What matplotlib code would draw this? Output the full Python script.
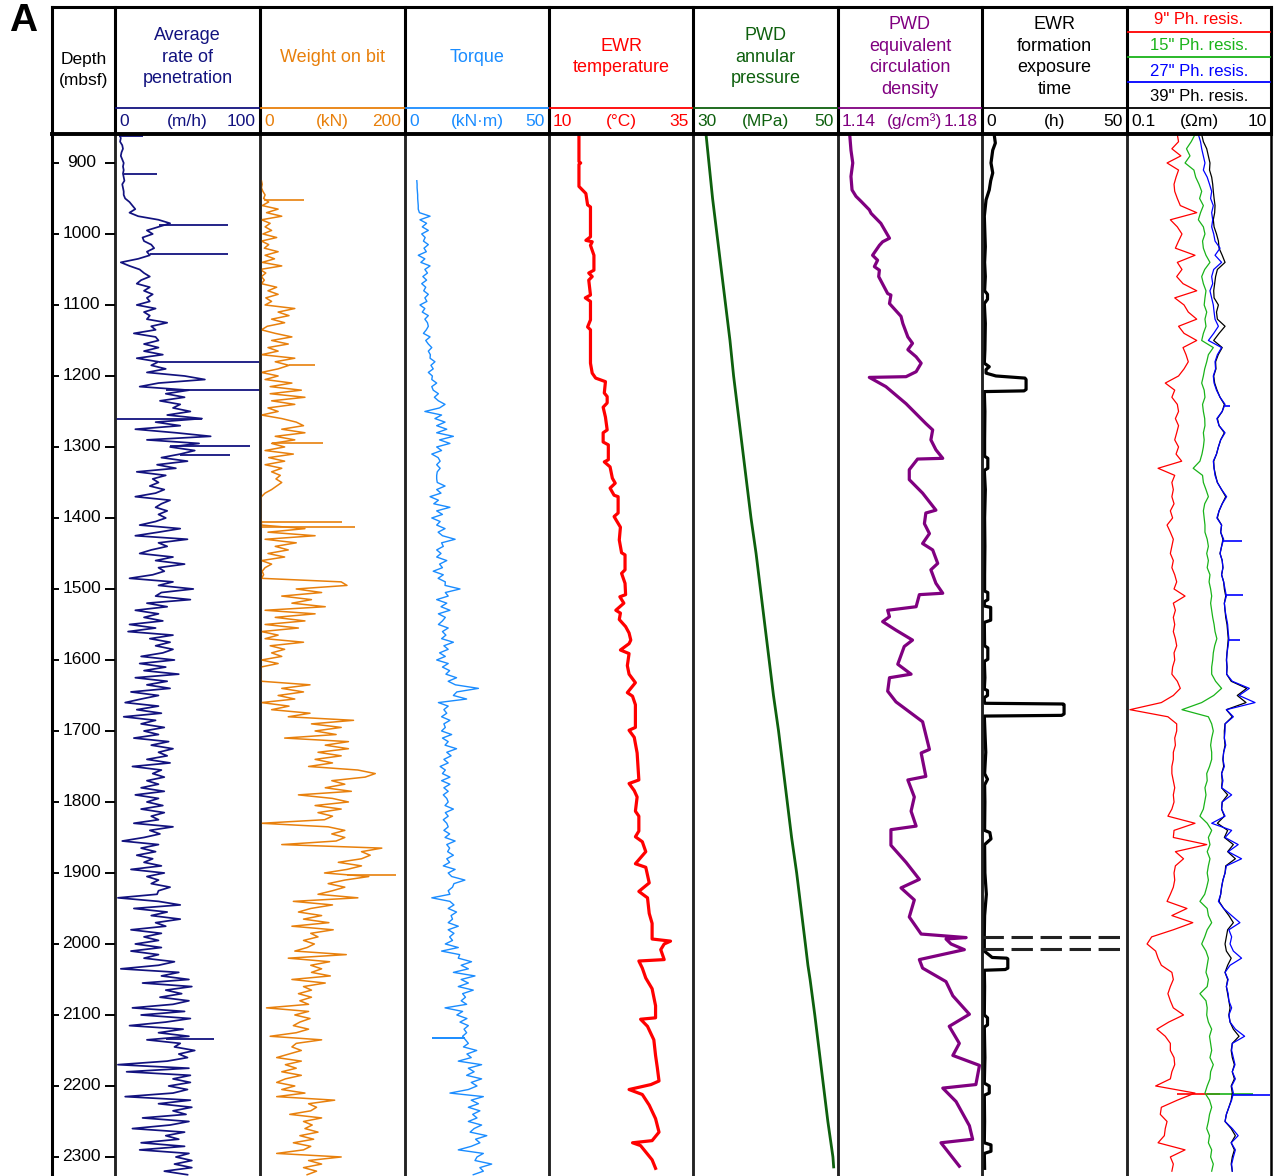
import numpy as np
import matplotlib.pyplot as plt
from matplotlib.transforms import blended_transform_factory

plt.rcParams['font.family'] = ['Liberation Sans', 'DejaVu Sans']

# ---------------- data ----------------
# drilling logs sampled every 5 m, first sample at *_TOP (mbsf)
ROP_TOP = 860
ROP = [3, 4, 3.5, 5, 5.5, 4.5, 4, 5, 6, 5.5,
       6, 5.5, 6, 6.5, 5, 5.5, 6, 6, 7, 10,
       12, 14, 10, 16, 30, 38, 30, 22, 26, 19,
       20, 25, 27, 22, 24, 16, 4, 10, 17, 20,
       24, 18, 15, 24, 20, 26, 22, 24, 15, 28,
       20, 24, 22, 36, 25, 28, 13, 28, 30, 20,
       30, 20, 33, 15, 30, 25, 35, 22, 48, 62,
       30, 17, 51, 35, 48, 31, 45, 40, 52, 36,
       60, 28, 45, 14, 42, 66, 22, 58, 38, 55,
       45, 32, 50, 29, 42, 15, 35, 26, 30, 24,
       34, 28, 14, 38, 32, 28, 36, 30, 35, 28,
       17, 45, 30, 14, 50, 30, 36, 25, 17, 40,
       28, 48, 30, 34, 26, 10, 40, 30, 54, 32,
       28, 52, 22, 36, 14, 30, 20, 33, 10, 28,
       9, 40, 24, 38, 28, 40, 33, 18, 41, 17,
       35, 20, 44, 14, 36, 22, 38, 11, 30, 18,
       7, 30, 15, 32, 6, 28, 18, 34, 20, 30,
       13, 37, 25, 40, 30, 36, 22, 38, 12, 32,
       26, 34, 22, 30, 18, 34, 14, 30, 22, 33,
       18, 34, 25, 30, 13, 40, 24, 31, 20, 5,
       30, 18, 28, 15, 26, 20, 32, 11, 34, 22,
       30, 25, 38, 30, 29, 2, 30, 45, 13, 36,
       25, 45, 28, 35, 11, 32, 20, 30, 14, 32,
       11, 30, 20, 41, 30, 4, 44, 32, 51, 19,
       53, 35, 46, 31, 51, 40, 12, 48, 18, 52,
       35, 10, 47, 30, 51, 22, 45, 41, 55, 44,
       50, 36, 2, 51, 8, 52, 40, 52, 37, 50,
       40, 7, 52, 30, 53, 40, 49, 19, 51, 38,
       12, 48, 35, 44, 18, 48, 17, 51, 42, 53,
       41, 53, 34, 50]
ROP_SPIKE_D = [862, 915, 987, 1028, 1180, 1220, 1260, 1299, 1312, 2134]
ROP_SPIKE_FROM = [3, 6, 30, 24, 30, 35, 0, 38, 45, 35]
ROP_SPIKE_TO = [19, 29, 78, 78, 99, 100, 60, 93, 79, 68]

WOB_TOP = 925
WOB = [2, 3, 2, 4, 7, 5, 12, 3, 25, 9,
       30, 2, 14, 7, 16, 4, 23, 2, 12, 6,
       25, 7, 20, 3, 30, 0, 8, 2, 6, 2,
       23, 11, 25, 8, 16, 7, 48, 25, 40, 16,
       34, 10, 2, 21, 44, 16, 39, 11, 25, 2,
       48, 21, 40, 25, 2, 25, 7, 44, 14, 57,
       14, 62, 16, 48, 11, 25, 2, 30, 50, 60,
       30, 62, 21, 48, 16, 34, 7, 46, 12, 34,
       7, 30, 16, 28, 22, 30, 23, 16, 7, 2,
       1, 1, 1, 1, 1, 1, 2, 2, 62, 11,
       76, 7, 50, 21, 39, 11, 34, 2, 16, 7,
       3, 5, 2, 112, 120, 50, 85, 30, 71, 44,
       90, 7, 76, 21, 62, 7, 53, 2, 25, 7,
       60, 14, 34, 16, 30, 2, 25, 1, 1, 1,
       1, 2, 69, 30, 60, 25, 48, 2, 40, 16,
       69, 39, 129, 71, 112, 76, 105, 34, 122, 90,
       122, 80, 112, 76, 100, 67, 135, 159, 145, 99,
       117, 90, 126, 53, 100, 122, 76, 112, 80, 100,
       89, 2, 94, 117, 99, 117, 105, 30, 168, 140,
       152, 140, 108, 140, 120, 89, 150, 117, 94, 117,
       100, 80, 135, 46, 100, 70, 53, 85, 60, 95,
       44, 101, 70, 80, 60, 75, 65, 48, 119, 39,
       96, 70, 85, 71, 97, 44, 90, 60, 71, 53,
       71, 55, 67, 9, 67, 48, 69, 55, 46, 67,
       50, 14, 85, 50, 44, 57, 40, 23, 57, 35,
       50, 30, 57, 35, 23, 48, 30, 62, 23, 103,
       67, 78, 70, 41, 85, 60, 72, 62, 80, 55,
       74, 46, 70, 60, 23, 112, 67, 85, 60, 78,
       65]
WOB_SPIKE_D = [952, 1185, 1295, 1406, 1413, 1903]
WOB_SPIKE_FROM = [5, 40, 16, 1, 1, 120]
WOB_SPIKE_TO = [60, 76, 87, 113, 131, 188]

TORQUE_TOP = 925
TORQUE = [4.1, 4.2, 4.2, 4.3, 4.4, 4.4, 4.5, 4.6, 4.6, 5.0,
          8.7, 5.2, 7.5, 6.0, 8.1, 5.8, 7.0, 6.4, 8.1, 6.6,
          7.4, 4.6, 6.9, 5.5, 8.7, 6.9, 7.8, 6.2, 7.5, 5.8,
          7.2, 6.5, 8.1, 6.9, 7.6, 5.2, 6.9, 6.0, 8.1, 6.9,
          7.8, 8.1, 7.4, 6.4, 8.7, 7.2, 8.1, 9.3, 8.1, 8.8,
          8.7, 10.4, 9.0, 9.8, 8.1, 9.5, 9.3, 11.0, 9.3, 9.8,
          11.6, 10.2, 11.6, 13.9, 12.0, 6.9, 12.7, 10.4, 13.9, 11.0,
          14.5, 11.0, 16.8, 12.0, 15.6, 11.0, 12.7, 9.3, 11.5, 12.2,
          11.0, 12.2, 11.2, 11.0, 11.0, 11.2, 13.9, 11.0, 12.5, 8.7,
          11.6, 10.0, 15.6, 11.0, 13.0, 9.3, 12.2, 11.0, 13.9, 11.5,
          13.0, 17.4, 12.7, 13.3, 11.0, 12.5, 11.0, 14.5, 12.0, 13.0,
          9.8, 13.3, 11.5, 14.0, 13.9, 19.1, 14.0, 15.0, 11.0, 14.5,
          12.5, 15.6, 11.6, 14.0, 13.0, 11.6, 15.0, 13.0, 14.2, 12.7,
          16.8, 13.5, 15.0, 12.0, 14.0, 11.0, 15.0, 13.0, 15.5, 14.2,
          17.9, 15.0, 17.5, 25.5, 18.0, 16.8, 21.4, 11.6, 15.0, 13.5,
          14.5, 12.7, 15.6, 13.5, 14.0, 12.7, 16.2, 13.0, 15.0, 13.9,
          17.9, 14.5, 16.0, 13.5, 15.0, 12.2, 14.0, 13.0, 15.6, 12.7,
          15.6, 13.5, 15.0, 13.3, 14.5, 15.0, 13.9, 16.8, 14.0, 15.0,
          13.3, 14.5, 15.0, 13.5, 15.5, 13.9, 17.4, 14.5, 15.5, 14.8,
          16.8, 14.5, 15.5, 13.3, 17.4, 15.0, 16.2, 20.8, 17.0, 16.5,
          15.0, 15.6, 9.3, 15.6, 17.0, 15.0, 17.9, 16.0, 16.5, 15.0,
          18.5, 15.0, 17.0, 15.5, 16.5, 14.0, 18.5, 12.7, 19.0, 18.5,
          23.1, 19.5, 22.0, 16.8, 24.3, 19.5, 22.0, 18.5, 23.7, 20.0,
          21.0, 19.5, 21.4, 13.9, 20.0, 18.0, 21.5, 19.1, 22.0, 20.5,
          21.4, 20.0, 21.0, 22.0, 20.3, 24.9, 21.5, 23.0, 18.5, 26.6,
          22.0, 24.0, 21.4, 26.6, 23.0, 25.0, 22.0, 15.6, 27.2, 23.0,
          25.5, 22.0, 26.0, 23.5, 25.0, 22.0, 26.6, 24.0, 22.6, 28.4,
          24.5, 26.0, 23.0, 18.5, 27.2, 25.0, 24.3, 30.1, 26.0, 27.2,
          23.7]
TORQUE_SPIKE_D = [2132]
TORQUE_SPIKE_FROM = [21.0]
TORQUE_SPIKE_TO = [9.3]

TEMP_DEPTH = [860, 898, 900, 902, 933, 938, 943, 959, 962, 1004,
              1009, 1011, 1016, 1030, 1051, 1055, 1060, 1065, 1086, 1090,
              1095, 1121, 1131, 1135, 1182, 1196, 1203, 1208, 1224, 1229,
              1238, 1244, 1258, 1276, 1280, 1293, 1297, 1318, 1321, 1328,
              1344, 1351, 1358, 1368, 1370, 1393, 1398, 1413, 1431, 1449,
              1452, 1473, 1478, 1492, 1508, 1511, 1520, 1530, 1534, 1543,
              1553, 1562, 1572, 1577, 1586, 1591, 1608, 1620, 1632, 1646,
              1651, 1663, 1695, 1699, 1709, 1731, 1769, 1774, 1784, 1793,
              1813, 1820, 1841, 1849, 1856, 1870, 1887, 1892, 1914, 1926,
              1935, 1957, 1971, 1993, 1996, 2000, 2008, 2022, 2024, 2034,
              2048, 2063, 2087, 2104, 2106, 2116, 2135, 2157, 2174, 2193,
              2198, 2205, 2212, 2227, 2246, 2265, 2277, 2280, 2284, 2304,
              2316]
TEMP = [15.2, 15.2, 15.5, 15.2, 15.2, 15.8, 16.4, 16.7, 17.2, 17.2,
        16.4, 17.5, 17.2, 17.8, 17.8, 16.9, 17.5, 16.9, 17.2, 16.3,
        17.2, 17.2, 16.7, 17.2, 17.2, 17.5, 18.1, 19.8, 19.6, 20.1,
        20.1, 19.4, 19.8, 20.1, 19.4, 19.4, 20.3, 20.3, 19.6, 20.6,
        21.0, 21.5, 20.6, 21.3, 22.0, 22.0, 21.3, 22.4, 22.2, 22.6,
        23.2, 23.2, 22.6, 23.2, 23.3, 22.3, 23.0, 21.6, 22.4, 22.2,
        23.3, 23.9, 24.2, 23.9, 22.4, 23.9, 23.6, 23.9, 25.0, 23.6,
        24.5, 25.0, 25.0, 23.9, 24.8, 25.3, 25.6, 23.9, 24.8, 25.3,
        25.0, 25.6, 25.6, 25.0, 26.2, 26.8, 25.0, 26.8, 27.4, 25.6,
        27.1, 27.4, 27.9, 27.9, 31.1, 30.0, 29.4, 30.0, 25.6, 26.2,
        26.8, 27.9, 28.5, 28.5, 25.9, 27.1, 28.2, 28.5, 28.8, 29.1,
        27.7, 23.9, 26.2, 27.4, 28.5, 29.1, 27.9, 24.5, 25.9, 27.9,
        28.5]

PRES_DEPTH = [860, 900, 950, 1000, 1050, 1100, 1150, 1200, 1250, 1300,
              1350, 1400, 1450, 1500, 1550, 1600, 1650, 1700, 1750, 1800,
              1850, 1900, 1950, 2000, 2030, 2040, 2050, 2100, 2150, 2200,
              2250, 2300, 2314]
PRES = [31.8, 32.2, 32.7, 33.3, 33.9, 34.5, 35.1, 35.6, 36.2, 36.8,
        37.4, 38.0, 38.7, 39.3, 39.9, 40.5, 41.1, 41.8, 42.4, 43.0,
        43.6, 44.3, 44.9, 45.5, 45.85, 46.0, 46.15, 46.8, 47.4, 48.0,
        48.6, 49.3, 49.4]

ECD_DEPTH = [863, 882, 900, 919, 938, 947, 954, 966, 971, 985,
             1006, 1011, 1016, 1030, 1037, 1046, 1051, 1060, 1084, 1086,
             1098, 1116, 1126, 1145, 1154, 1163, 1173, 1182, 1194, 1201,
             1202, 1215, 1239, 1267, 1276, 1290, 1304, 1316, 1317, 1332,
             1346, 1365, 1389, 1393, 1408, 1422, 1436, 1445, 1464, 1473,
             1492, 1506, 1508, 1525, 1530, 1539, 1546, 1558, 1572, 1581,
             1606, 1620, 1625, 1644, 1659, 1687, 1726, 1731, 1764, 1769,
             1793, 1813, 1834, 1839, 1861, 1885, 1909, 1921, 1938, 1962,
             1986, 1991, 1993, 2000, 2008, 2022, 2034, 2053, 2073, 2099,
             2116, 2140, 2157, 2171, 2198, 2203, 2222, 2256, 2275, 2280,
             2313]
ECD = [1.1433, 1.1436, 1.1441, 1.1436, 1.1439, 1.1450, 1.1464, 1.1487, 1.1492, 1.1519,
       1.1543, 1.1524, 1.1515, 1.1496, 1.1510, 1.1501, 1.1515, 1.1513, 1.1538, 1.1547,
       1.1543, 1.1575, 1.1580, 1.1594, 1.1607, 1.1594, 1.1617, 1.1631, 1.1617, 1.1589,
       1.1487, 1.1533, 1.1589, 1.1644, 1.1663, 1.1658, 1.1672, 1.1691, 1.1621, 1.1598,
       1.1598, 1.1635, 1.1672, 1.1644, 1.1640, 1.1654, 1.1635, 1.1663, 1.1677, 1.1658,
       1.1672, 1.1691, 1.1626, 1.1617, 1.1538, 1.1543, 1.1524, 1.1561, 1.1607, 1.1584,
       1.1566, 1.1603, 1.1543, 1.1538, 1.1561, 1.1635, 1.1654, 1.1631, 1.1644, 1.1594,
       1.1612, 1.1603, 1.1617, 1.1547, 1.1547, 1.1589, 1.1626, 1.1575, 1.1612, 1.1598,
       1.1631, 1.1756, 1.1700, 1.1714, 1.1751, 1.1626, 1.1635, 1.1700, 1.1719, 1.1765,
       1.1709, 1.1737, 1.1719, 1.1793, 1.1783, 1.1691, 1.1728, 1.1765, 1.1774, 1.1686,
       1.1737]

EXPO_DEPTH = [860, 872, 882, 900, 914, 925, 938, 952, 975, 1000,
              1018, 1040, 1060, 1080, 1085, 1092, 1098, 1126, 1163, 1182,
              1187, 1191, 1196, 1200, 1203, 1205, 1219, 1221, 1222, 1250,
              1290, 1313, 1316, 1330, 1333, 1360, 1400, 1440, 1480, 1503,
              1505, 1515, 1518, 1524, 1526, 1544, 1547, 1580, 1583, 1599,
              1602, 1625, 1641, 1643, 1650, 1653, 1659, 1661, 1662, 1663,
              1676, 1678, 1679, 1700, 1730, 1760, 1768, 1776, 1800, 1840,
              1843, 1852, 1860, 1900, 1930, 1960, 1986, 2010, 2019, 2020,
              2021, 2034, 2036, 2037, 2060, 2100, 2104, 2114, 2117, 2160,
              2196, 2200, 2210, 2213, 2250, 2280, 2283, 2292, 2295, 2316]
EXPO = [4.2, 4.6, 3.7, 3.1, 3.7, 3.0, 2.5, 1.4, 0.8, 1.0,
        1.15, 0.9, 1.15, 0.9, 1.9, 1.9, 0.8, 1.15, 1.0, 0.8,
        2.5, 1.4, 1.4, 4.8, 14.8, 15.2, 15.2, 14.5, 0.8, 1.0,
        0.9, 0.9, 2.0, 2.0, 0.8, 1.15, 0.9, 1.0, 0.9, 0.9,
        2.0, 2.0, 0.8, 0.8, 3.0, 3.0, 0.8, 0.9, 2.0, 2.0,
        0.8, 1.0, 0.8, 1.9, 1.9, 0.8, 0.8, 1.0, 28.0, 28.3,
        28.3, 27.5, 0.8, 1.0, 1.3, 0.9, 1.9, 0.9, 1.0, 0.9,
        2.7, 3.1, 0.9, 1.0, 1.5, 0.9, 0.8, 0.8, 3.5, 8.5,
        8.9, 8.9, 8.0, 0.8, 0.9, 0.8, 1.9, 1.9, 0.8, 1.0,
        0.8, 2.5, 2.5, 0.8, 0.9, 0.8, 3.1, 3.1, 0.8, 0.9]
EXPO_DASH_D = [1990, 2007]

# phase resistivities sampled every 10 m from 860 mbsf
RES_TOP = 860
RES9 = [0.50, 0.52, 0.42, 0.56, 0.36, 0.52, 0.48, 0.45, 0.46, 0.50,
        0.55, 0.93, 0.40, 0.50, 0.58, 0.52, 0.47, 0.88, 0.50, 0.58,
        0.49, 0.60, 0.93, 0.46, 0.62, 0.71, 0.93, 0.52, 0.62, 0.93,
        0.60, 0.66, 0.71, 0.62, 0.52, 0.34, 0.46, 0.42, 0.50, 0.52,
        0.47, 0.52, 0.49, 0.46, 0.52, 0.48, 0.575, 0.27, 0.46, 0.42,
        0.44, 0.42, 0.45, 0.40, 0.43, 0.36, 0.40, 0.44, 0.42, 0.40,
        0.44, 0.42, 0.46, 0.49, 0.45, 0.64, 0.44, 0.47, 0.44, 0.46,
        0.44, 0.47, 0.49, 0.45, 0.46, 0.43, 0.42, 0.50, 0.55, 0.44,
        0.30, 0.11, 0.37, 0.49, 0.49, 0.46, 0.47, 0.44, 0.44, 0.42,
        0.42, 0.44, 0.46, 0.44, 0.45, 0.42, 0.37, 0.88, 0.45, 0.44,
        1.28, 0.47, 0.61, 0.47, 0.45, 0.46, 0.44, 0.40, 0.36, 0.68,
        0.42, 0.82, 0.44, 0.22, 0.19, 0.25, 0.27, 0.30, 0.42, 0.44,
        0.40, 0.37, 0.40, 0.44, 0.61, 0.38, 0.26, 0.34, 0.40, 0.40,
        0.45, 0.46, 0.42, 0.40, 0.25, 0.88, 0.50, 0.30, 0.29, 0.36,
        0.34, 0.33, 0.27, 0.64, 0.40, 0.44, 0.42]
RES15 = [0.88, 0.78, 0.67, 0.75, 0.64, 0.85, 0.90, 1.00, 1.09, 1.02,
         1.15, 1.05, 0.98, 1.15, 1.21, 1.12, 1.15, 1.25, 1.42, 1.20,
         1.09, 1.15, 1.25, 1.21, 1.18, 1.28, 1.21, 1.25, 1.15, 1.09,
         1.58, 1.35, 1.28, 1.20, 1.15, 1.09, 1.18, 1.21, 1.12, 1.15,
         1.20, 1.21, 1.15, 1.18, 1.15, 1.10, 1.03, 0.83, 1.12, 1.15,
         1.25, 1.35, 1.20, 1.15, 1.18, 1.21, 1.21, 1.30, 1.35, 1.28,
         1.35, 1.30, 1.42, 1.38, 1.45, 1.50, 1.45, 1.50, 1.55, 1.62,
         1.67, 1.77, 1.65, 1.58, 1.55, 1.50, 1.50, 1.70, 2.06, 1.60,
         1.09, 0.58, 1.35, 1.50, 1.58, 1.50, 1.45, 1.50, 1.50, 1.40,
         1.28, 1.30, 1.21, 1.25, 1.20, 1.15, 1.03, 1.30, 1.50, 1.35,
         1.42, 1.30, 1.42, 1.35, 1.30, 1.35, 1.28, 1.20, 1.03, 1.30,
         1.35, 1.50, 1.30, 1.20, 1.09, 1.25, 1.35, 1.30, 1.25, 1.35,
         1.30, 1.03, 1.25, 1.30, 1.28, 1.35, 1.50, 1.40, 1.45, 1.50,
         1.42, 1.58, 1.45, 1.42, 1.30, 1.21, 1.40, 1.50, 1.40, 1.35,
         1.28, 1.40, 1.35, 1.50, 1.45, 1.58, 1.50]
RES27 = [0.98, 1.05, 1.09, 1.15, 1.21, 1.15, 1.30, 1.40, 1.50, 1.45,
         1.58, 1.50, 1.55, 1.50, 1.60, 1.67, 1.96, 1.67, 2.06, 1.60,
         1.50, 1.55, 1.42, 1.50, 1.58, 1.62, 1.67, 1.86, 1.60, 1.35,
         2.06, 1.80, 1.67, 1.70, 1.58, 1.62, 1.75, 1.96, 2.30, 2.10,
         1.77, 1.90, 2.30, 2.00, 1.86, 1.75, 1.58, 1.62, 1.67, 1.80,
         2.06, 2.42, 2.10, 1.90, 1.77, 2.06, 2.00, 2.20, 2.06, 1.96,
         2.10, 2.15, 2.06, 2.20, 2.30, 2.40, 2.25, 2.30, 2.40, 2.50,
         2.54, 2.60, 2.54, 2.45, 2.42, 2.45, 2.42, 2.90, 5.00, 3.60,
         6.00, 2.40, 3.00, 2.30, 2.30, 2.25, 2.35, 2.20, 2.15, 2.25,
         2.06, 2.15, 2.06, 2.84, 2.10, 2.06, 2.30, 1.50, 2.84, 2.30,
         3.50, 2.54, 3.90, 2.40, 2.30, 2.15, 2.06, 2.00, 1.86, 2.20,
         2.84, 3.70, 2.60, 2.84, 2.70, 3.00, 3.90, 2.70, 2.30, 2.54,
         2.40, 2.54, 2.60, 2.84, 2.60, 2.70, 3.20, 4.30, 2.90, 2.84,
         3.00, 3.16, 2.90, 3.20, 2.84, 3.00, 2.84, 2.60, 2.40, 2.30,
         2.90, 3.50, 2.80, 3.20, 3.00, 2.84, 2.90]
RES39 = [1.09, 1.15, 1.28, 1.35, 1.42, 1.40, 1.50, 1.55, 1.58, 1.62,
         1.67, 1.65, 1.58, 1.62, 1.75, 1.86, 1.90, 2.10, 2.30, 1.80,
         1.70, 1.65, 1.60, 1.62, 1.86, 1.75, 1.80, 2.30, 1.90, 1.60,
         2.10, 1.85, 1.70, 1.72, 1.60, 1.65, 1.78, 1.96, 2.25, 2.10,
         1.80, 1.90, 2.25, 2.00, 1.86, 1.75, 1.60, 1.62, 1.70, 1.80,
         2.06, 2.35, 2.10, 1.90, 1.80, 2.06, 2.00, 2.15, 2.06, 1.96,
         2.10, 2.15, 2.06, 2.20, 2.25, 2.35, 2.25, 2.30, 2.35, 2.45,
         2.50, 2.55, 2.50, 2.45, 2.40, 2.45, 2.42, 2.80, 4.60, 3.40,
         4.50, 2.40, 2.90, 2.30, 2.25, 2.25, 2.30, 2.20, 2.15, 2.20,
         2.06, 2.10, 2.06, 2.50, 2.10, 2.06, 2.25, 1.80, 2.50, 2.25,
         3.00, 2.50, 3.20, 2.35, 2.30, 2.15, 2.06, 2.00, 1.90, 2.20,
         2.60, 3.00, 2.50, 2.40, 2.30, 2.40, 2.80, 2.50, 2.30, 2.50,
         2.40, 2.50, 2.60, 2.70, 2.60, 2.70, 3.00, 3.60, 2.90, 2.80,
         2.90, 3.10, 2.90, 3.10, 2.80, 2.90, 2.80, 2.60, 2.40, 2.30,
         2.80, 3.20, 2.80, 3.10, 2.90, 2.80, 2.90]
RES9_SPIKE_D = [2211]
RES9_SPIKE_FROM = [0.5]
RES9_SPIKE_TO = [1.96]
RES15_SPIKE_D = [2212]
RES15_SPIKE_FROM = [1.3]
RES15_SPIKE_TO = [5.7]
RES27_SPIKE_D = [1243, 1433, 1508, 1572, 2213]
RES27_SPIKE_FROM = [2.3, 2.06, 2.3, 2.54, 2.84]
RES27_SPIKE_TO = [2.7, 3.9, 4.1, 3.7, 9.8]

DEPTH_TICKS = list(range(900, 2400, 100))

# ---------------- layout (pixels) ----------------
W, H = 1276, 1176
D_TOP, D_BOT = 859.2, 2326.8
HEAD_TOP, SCALE_LINE, HEAD_BOT = 7, 107.5, 134
EDGES = [115, 260, 405, 549, 693, 838, 982, 1127, 1271]

NAVY = '#12127f'
ORANGE = '#e8800c'
SKY = '#1a8cff'
RED = '#ff0000'
DGREEN = '#0e600e'
PURPLE = '#800080'
LGREEN = '#19b319'
BLUE = '#0000ff'

fig = plt.figure(figsize=(W / 100, H / 100), dpi=100)


def data_axes(x0, x1):
    ax = fig.add_axes([x0 / W, 0, (x1 - x0) / W, 1 - HEAD_BOT / H])
    ax.patch.set_visible(False)
    ax.set_ylim(D_BOT, D_TOP)
    ax.set_xticks([])
    ax.set_yticks([])
    for s in ['top', 'bottom']:
        ax.spines[s].set_visible(False)
    for s in ['left', 'right']:
        ax.spines[s].set_linewidth(1.8)
        ax.spines[s].set_color('#222222')
    return ax


def grid(top, step, vals):
    return top + step * np.arange(len(vals))


# depth column
axd = data_axes(52, 115)
axd.spines['left'].set_color('black')
axd.spines['left'].set_linewidth(2.2)
for d in DEPTH_TICKS:
    axd.text(0.47, d, str(d), transform=axd.get_yaxis_transform(),
             ha='center', va='center', fontsize=12.5)

# rate of penetration
ax = data_axes(EDGES[0], EDGES[1])
ax.set_xlim(0, 100)
ax.plot(ROP, grid(ROP_TOP, 5, ROP), color=NAVY, lw=1.25)
ax.hlines(ROP_SPIKE_D, ROP_SPIKE_FROM, ROP_SPIKE_TO, color=NAVY, lw=1.3)

# weight on bit
ax = data_axes(EDGES[1], EDGES[2])
ax.set_xlim(0, 200)
ax.plot(WOB, grid(WOB_TOP, 5, WOB), color=ORANGE, lw=1.1)
ax.hlines(WOB_SPIKE_D, WOB_SPIKE_FROM, WOB_SPIKE_TO, color=ORANGE, lw=1.2)

# torque
ax = data_axes(EDGES[2], EDGES[3])
ax.set_xlim(0, 50)
ax.plot(TORQUE, grid(TORQUE_TOP, 5, TORQUE), color=SKY, lw=1.0)
ax.hlines(TORQUE_SPIKE_D, TORQUE_SPIKE_FROM, TORQUE_SPIKE_TO, color=SKY, lw=1.4)

# temperature
ax = data_axes(EDGES[3], EDGES[4])
ax.set_xlim(10, 35)
ax.plot(TEMP, TEMP_DEPTH, color=RED, lw=2.3, solid_joinstyle='round')

# annular pressure
ax = data_axes(EDGES[4], EDGES[5])
ax.set_xlim(30, 50)
ax.plot(PRES, PRES_DEPTH, color=DGREEN, lw=2.0)

# equivalent circulating density
ax = data_axes(EDGES[5], EDGES[6])
ax.set_xlim(1.14, 1.18)
ax.plot(ECD, ECD_DEPTH, color=PURPLE, lw=2.3, solid_joinstyle='round')

# formation exposure time
ax = data_axes(EDGES[6], EDGES[7])
ax.set_xlim(0, 50)
ax.plot(EXPO, EXPO_DEPTH, color='black', lw=2.3, solid_joinstyle='round')
for d in EXPO_DASH_D:
    ax.axhline(d, color='#222222', lw=2.2, ls=(0, (7, 2.5)))

# phase resistivities
ax = data_axes(EDGES[7], EDGES[8])
ax.set_xscale('log')
ax.set_xlim(0.1, 10)
ax.set_xticks([])
ax.minorticks_off()
ax.spines['right'].set_color('black')
ax.plot(RES9, grid(RES_TOP, 10, RES9), color=RED, lw=0.9)
ax.hlines(RES9_SPIKE_D, RES9_SPIKE_FROM, RES9_SPIKE_TO, color=RED, lw=1.2)
ax.plot(RES15, grid(RES_TOP, 10, RES15), color=LGREEN, lw=0.9)
ax.hlines(RES15_SPIKE_D, RES15_SPIKE_FROM, RES15_SPIKE_TO, color=LGREEN, lw=1.2)
ax.plot(RES39, grid(RES_TOP, 10, RES39), color='black', lw=0.9)
ax.plot(RES27, grid(RES_TOP, 10, RES27), color=BLUE, lw=0.9)
ax.hlines(RES27_SPIKE_D, RES27_SPIKE_FROM, RES27_SPIKE_TO, color=BLUE, lw=1.2)

# ---------------- header and frame overlay (pixel coordinates) ----------------
ov = fig.add_axes([0, 0, 1, 1], zorder=10)
ov.set_xlim(0, W)
ov.set_ylim(H, 0)
ov.axis('off')
ov.patch.set_visible(False)

# depth tick marks on both inner edges of the depth column
tick_tr = blended_transform_factory(ov.transData, axd.transData)
ov.hlines(DEPTH_TICKS, 52, 59, transform=tick_tr, color='black', lw=1.4)
ov.hlines(DEPTH_TICKS, 105, 115, transform=tick_tr, color='black', lw=1.4)

ov.text(23, 21, 'A', fontsize=28, fontweight='bold', ha='center', va='center')
ov.plot([52, 1271], [HEAD_TOP, HEAD_TOP], color='black', lw=2.2)
ov.plot([52, 1271], [HEAD_BOT, HEAD_BOT], color='black', lw=2.8)
for x in [52] + EDGES:
    ov.plot([x, x], [HEAD_TOP, HEAD_BOT], color='black', lw=2.2)

ov.text(83.5, 70, 'Depth\n(mbsf)', ha='center', va='center',
        fontsize=12.5, linespacing=1.45)

titles = ['Average\nrate of\npenetration', 'Weight on bit', 'Torque',
          'EWR\ntemperature', 'PWD\nannular\npressure',
          'PWD\nequivalent\ncirculation\ndensity',
          'EWR\nformation\nexposure\ntime']
scales = [('0', '(m/h)', '100'), ('0', '(kN)', '200'), ('0', '(kN·m)', '50'),
          ('10', '(°C)', '35'), ('30', '(MPa)', '50'),
          ('1.14', '(g/cm³)', '1.18'), ('0', '(h)', '50'),
          ('0.1', '(Ωm)', '10')]
head_colors = [NAVY, ORANGE, SKY, RED, DGREEN, PURPLE, 'black', 'black']

for i, (lo, unit, hi) in enumerate(scales):
    x0, x1 = EDGES[i], EDGES[i + 1]
    xc = (x0 + x1) / 2
    c = head_colors[i]
    if i < len(titles):
        ov.text(xc, 57, titles[i], ha='center', va='center', color=c,
                fontsize=13, linespacing=1.38)
    ov.plot([x0 + 1, x1 - 1], [SCALE_LINE, SCALE_LINE], color=c, lw=1.3)
    ov.text(x0 + 4, 121.5, lo, ha='left', va='center', color=c, fontsize=12.5)
    ov.text(xc + (4 if i == 5 else 0), 121.5, unit, ha='center', va='center',
            color=c, fontsize=12.5)
    ov.text(x1 - 4, 121.5, hi, ha='right', va='center', color=c, fontsize=12.5)

# resistivity legend in its header box
res_labels = ['9" Ph. resis.', '15" Ph. resis.', '27" Ph. resis.', '39" Ph. resis.']
res_colors = [RED, LGREEN, BLUE, 'black']
xc = (EDGES[7] + EDGES[8]) / 2
for k, (lab, c) in enumerate(zip(res_labels, res_colors)):
    ov.text(xc, 20 + 25.5 * k, lab, ha='center', va='center', color=c,
            fontsize=12)
    if k < 3:
        ov.plot([EDGES[7] + 1, EDGES[8] - 1], [32 + 25 * k, 32 + 25 * k],
                color=c, lw=1.3)

fig.savefig('out.png', dpi=100)
